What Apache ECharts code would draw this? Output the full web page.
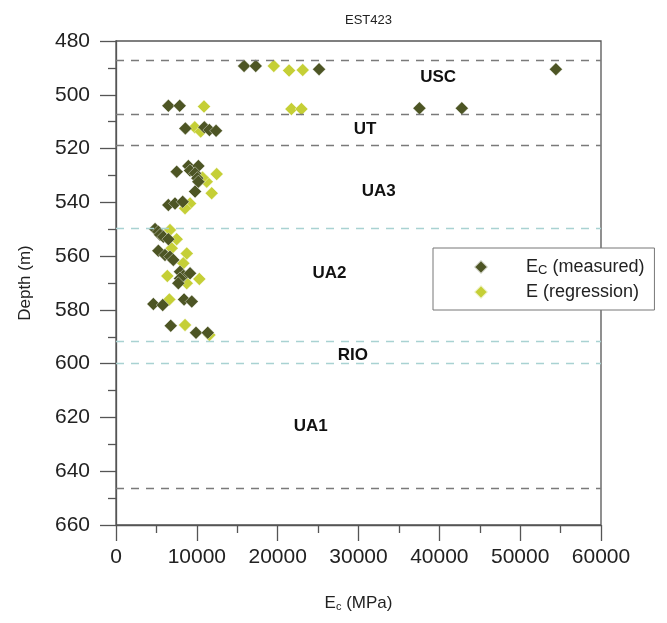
<!DOCTYPE html>
<html>
<head>
<meta charset="utf-8">
<script src="https://cdn.jsdelivr.net/npm/echarts@6/dist/echarts.min.js"></script>
<style>
html,body{margin:0;padding:0;background:#fff;}
#chart{width:667px;height:623px;}
</style>
</head>
<body>
<div id="chart"></div>
<script>
// Measured Ec (MPa) and depth (m)
var measuredE = [15840, 17290, 25120, 54420, 6480, 7880, 37540, 42780, 8580, 10930, 11550, 12380,
  7510, 8950, 10190, 9160, 9780, 10060, 10190, 9780, 6470, 7300, 8250,
  4830, 5240, 5450, 5860, 6480, 5240, 6060, 6680, 7090, 7920, 8330, 7920, 7710, 9160,
  4620, 5780, 8420, 9370, 6770, 9900, 11350];
var measuredDepth = [489.3, 489.3, 490.5, 490.5, 504.1, 504.1, 505, 505, 512.5, 512.1, 513.1, 513.4,
  528.6, 526.5, 526.5, 528.2, 529.2, 531, 532.3, 536, 541, 540.4, 539.8,
  549.9, 550.9, 552.1, 552.8, 553.7, 558, 559.6, 560.2, 561.4, 565.8, 567.4, 568.3, 570.1, 566.4,
  577.8, 578.2, 576.1, 576.9, 585.9, 588.5, 588.5];
// Regression E (MPa) and depth (m)
var regressionE = [19520, 21410, 23100, 10890, 21700, 22940, 9740, 10480,
  12460, 11220, 11840, 9160, 8540, 10700,
  6680, 7510, 6890, 8750, 8330, 6350, 10310, 8750, 6600, 8540, 11550];
var regressionDepth = [489.3, 491, 490.8, 504.4, 505.3, 505.3, 512.1, 513.7,
  529.5, 532.3, 536.6, 540.4, 542.2, 530.8,
  550.3, 553.7, 557.1, 559, 562.7, 567.4, 568.5, 570.1, 576.1, 585.6, 589.3];
// Unit boundaries (m)
var darkBoundaries = [487.2, 507.1, 518.6, 646.3];
var lightBoundaries = [549.8, 591.8, 599.9];
// Unit labels
var zoneNames = ['USC', 'UT', 'UA3', 'UA2', 'RIO', 'UA1'];
var zoneE = [39850, 30800, 32500, 26400, 29300, 24100];
var zoneDepth = [493.5, 512.7, 536, 566.3, 596.8, 623.4];

function pairs(xs, ys) { return xs.map(function (x, i) { return [x, ys[i]]; }); }

var boundaryLines = darkBoundaries.map(function (d) {
  return { yAxis: d, lineStyle: { color: '#7a7a7a', type: [8, 7], width: 1.4 } };
}).concat(lightBoundaries.map(function (d) {
  return { yAxis: d, lineStyle: { color: '#a9d2d2', type: [8, 7], width: 1.4 } };
}));

var zonePoints = zoneNames.map(function (n, i) {
  return { name: n, coord: [zoneE[i], zoneDepth[i]] };
});

var FF = 'Liberation Sans, Arial, sans-serif';
var axisCol = '#555';
var chart = echarts.init(document.getElementById('chart'));
chart.setOption({
  backgroundColor: '#fff',
  animation: false,
  title: {
    text: 'EST423', left: 340, top: 9,
    textStyle: { fontSize: 13, fontWeight: 'normal', color: '#222', fontFamily: FF }
  },
  grid: { left: 116, right: 66, top: 41, bottom: 98, show: true, borderColor: axisCol, borderWidth: 1.3, backgroundColor: 'transparent' },
  legend: {
    orient: 'vertical', left: 433, top: 248,
    data: ['Ec (measured)', 'E (regression)'],
    backgroundColor: '#fff', borderColor: '#777', borderWidth: 1,
    padding: [10, 10, 9, 40], itemGap: 6,
    itemWidth: 14, itemHeight: 14,
    formatter: function (name) {
      if (name === 'Ec (measured)') return '{g|}{a|E}{s|C}{a| (measured)}';
      return '{g|}{a|E (regression)}';
    },
    textStyle: {
      fontFamily: FF, color: '#222',
      rich: {
        g: { width: 33, fontSize: 18, lineHeight: 20 },
        a: { fontSize: 18, lineHeight: 20, color: '#222', fontFamily: FF },
        s: { fontSize: 13, padding: [7, 0, 0, 0], color: '#222', fontFamily: FF }
      }
    }
  },
  xAxis: {
    type: 'value', min: 0, max: 60000, interval: 10000,
    name: '{a|E}{s|c}{a| (MPa)}', nameLocation: 'middle', nameGap: 69,
    nameTextStyle: {
      rich: {
        a: { fontSize: 17, color: '#222', fontFamily: FF },
        s: { fontSize: 11, padding: [7, 0, 0, 0], color: '#222', fontFamily: FF }
      }
    },
    axisLine: { show: true, onZero: false, lineStyle: { color: axisCol, width: 1.3 } },
    axisTick: { show: true, inside: false, length: 16, lineStyle: { color: axisCol, width: 1.3 } },
    minorTick: { show: true, splitNumber: 2, length: 8, lineStyle: { color: axisCol, width: 1.3 } },
    axisLabel: { fontSize: 21, color: '#222', margin: 22, fontFamily: FF, formatter: function (v) { return String(v); } },
    splitLine: { show: false }
  },
  yAxis: {
    type: 'value', inverse: true, min: 480, max: 660, interval: 20,
    name: 'Depth (m)', nameLocation: 'middle', nameGap: 82,
    nameTextStyle: { fontSize: 17, color: '#222', fontFamily: FF },
    axisLine: { show: true, onZero: false, lineStyle: { color: axisCol, width: 1.3 } },
    axisTick: { show: true, inside: false, length: 16, lineStyle: { color: axisCol, width: 1.3 } },
    minorTick: { show: true, splitNumber: 2, length: 8, lineStyle: { color: axisCol, width: 1.3 } },
    axisLabel: { fontSize: 21, color: '#222', margin: 26, fontFamily: FF },
    splitLine: { show: false }
  },
  series: [
    {
      name: 'Boundaries', type: 'scatter', data: [], silent: true,
      markLine: { silent: true, symbol: 'none', label: { show: false }, data: boundaryLines },
      markPoint: {
        silent: true, symbol: 'circle', symbolSize: 0, data: zonePoints,
        label: { show: true, position: 'inside', formatter: '{b}', fontSize: 17, fontWeight: 'bold', color: '#111', fontFamily: FF }
      }
    },
    {
      name: 'E (regression)', type: 'scatter', symbol: 'diamond', symbolSize: 13,
      itemStyle: { color: '#c5cf36', borderColor: 'rgba(255,255,255,0.7)', borderWidth: 0.6, opacity: 1 },
      data: pairs(regressionE, regressionDepth), z: 3
    },
    {
      name: 'Ec (measured)', type: 'scatter', symbol: 'diamond', symbolSize: 13,
      itemStyle: { color: '#4d5524', borderColor: 'rgba(255,255,255,0.7)', borderWidth: 0.6, opacity: 1 },
      data: pairs(measuredE, measuredDepth), z: 4
    }
  ]
});
</script>
</body>
</html>
